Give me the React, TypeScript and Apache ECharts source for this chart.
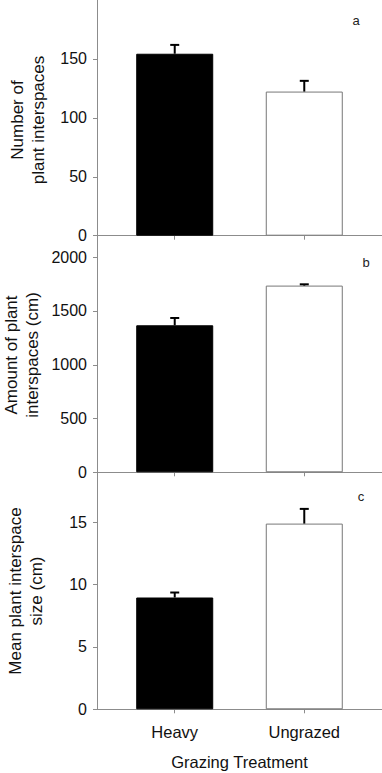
import React, { useEffect, useRef } from "react";
import * as echarts from "echarts";

const categories = ["Heavy", "Ungrazed"];
const categoryPositions = [1, 2];

const countMean = [154.4, 122.3];
const countErr = [7.5, 9.1];
const amountMean = [1367, 1736];
const amountErr = [68, 12];
const sizeMean = [8.97, 14.9];
const sizeErr = [0.4, 1.18];

const countTicks = [0, 50, 100, 150];
const amountTicks = [0, 500, 1000, 1500, 2000];
const sizeTicks = [0, 5, 10, 15];

const panelLetters = ["a", "b", "c"];
const yTitles = [
  "Number of\nplant interspaces",
  "Amount of plant\ninterspaces (cm)",
  "Mean plant interspace\nsize (cm)",
];
const xTitle = "Grazing Treatment";

const FONT = "Liberation Sans";
const AXIS_COLOR = "#8c8c8c";
const TEXT_COLOR = "#111";

export default function App() {
  const ref = useRef<HTMLDivElement>(null);

  useEffect(() => {
    if (!ref.current) return;
    const chart = echarts.init(ref.current, null, { renderer: "svg" });

    const grids = [
      { left: 97, right: 0, top: -13.5, height: 249.2 },
      { left: 97, right: 0, top: 235.7, height: 236.6 },
      { left: 97, right: 0, top: 472.5, height: 236.8 },
    ];
    const yMax = [200, 2200, 19];
    const yTickSets = [countTicks, amountTicks, sizeTicks];
    const means = [countMean, amountMean, sizeMean];
    const errs = [countErr, amountErr, sizeErr];

    const xAxes = grids.map((_, i) => ({
      type: "value" as const,
      gridIndex: i,
      min: 0.4,
      max: 2.6,
      splitLine: { show: false },
      axisLine: { show: true, lineStyle: { color: AXIS_COLOR, width: 1 } },
      axisTick: {
        show: true,
        length: 4,
        inside: false,
        customValues: categoryPositions,
        lineStyle: { color: AXIS_COLOR },
      },
      axisLabel: {
        show: i === 2,
        customValues: categoryPositions,
        margin: 14,
        fontSize: 16.5,
        fontFamily: FONT,
        color: TEXT_COLOR,
        formatter: (v: number) => categories[Math.round(v) - 1] ?? "",
      },
      name: i === 2 ? xTitle : "",
      nameLocation: "middle" as const,
      nameGap: 44,
      nameTextStyle: { fontSize: 16.5, fontFamily: FONT, color: TEXT_COLOR },
    }));

    const yAxes = grids.map((_, i) => ({
      type: "value" as const,
      gridIndex: i,
      min: 0,
      max: yMax[i],
      splitLine: { show: false },
      axisLine: { show: true, lineStyle: { color: AXIS_COLOR, width: 1 } },
      axisTick: {
        show: true,
        length: 4,
        inside: false,
        customValues: yTickSets[i],
        lineStyle: { color: AXIS_COLOR },
      },
      axisLabel: {
        customValues: yTickSets[i],
        margin: 10,
        fontSize: 16,
        fontFamily: FONT,
        color: TEXT_COLOR,
        formatter: (v: number) => String(v),
      },
    }));

    const series: any[] = [];
    grids.forEach((_, i) => {
      series.push({
        type: "bar",
        xAxisIndex: i,
        yAxisIndex: i,
        barWidth: 77,
        data: categoryPositions.map((x, j) => ({
          value: [x, means[i][j]],
          itemStyle:
            j === 0
              ? { color: "#000", borderColor: "#000", borderWidth: 1 }
              : { color: "#fff", borderColor: "#777", borderWidth: 1 },
        })),
      });
      series.push({
        type: "custom",
        xAxisIndex: i,
        yAxisIndex: i,
        z: 5,
        data: categoryPositions.map((x, j) => [x, means[i][j], errs[i][j]]),
        renderItem: (_p: any, api: any) => {
          const x = api.value(0);
          const y = api.value(1);
          const e = api.value(2);
          const p0 = api.coord([x, y]);
          const p1 = api.coord([x, y + e]);
          return {
            type: "group",
            children: [
              {
                type: "line",
                shape: { x1: p0[0], y1: p0[1], x2: p1[0], y2: p1[1] },
                style: { stroke: "#000", lineWidth: 2 },
              },
              {
                type: "line",
                shape: { x1: p1[0] - 4.5, y1: p1[1], x2: p1[0] + 4.5, y2: p1[1] },
                style: { stroke: "#000", lineWidth: 2 },
              },
            ],
          };
        },
      });
    });

    const letterPos = [
      [356, 20.5],
      [366, 262],
      [361, 496.5],
    ];
    const titlePos = [
      [27.5, 120],
      [22, 355],
      [26, 591],
    ];

    const graphics: any[] = [];
    panelLetters.forEach((t, i) => {
      graphics.push({
        type: "text",
        x: letterPos[i][0],
        y: letterPos[i][1],
        style: {
          text: t,
          fontSize: 13,
          fontFamily: FONT,
          fill: "#222",
          align: "center",
          verticalAlign: "middle",
        },
      });
    });
    yTitles.forEach((t, i) => {
      graphics.push({
        type: "text",
        x: titlePos[i][0],
        y: titlePos[i][1],
        rotation: Math.PI / 2,
        style: {
          text: t,
          fontSize: 17,
          lineHeight: 21,
          fontFamily: FONT,
          fill: TEXT_COLOR,
          align: "center",
          verticalAlign: "middle",
        },
      });
    });

    chart.setOption({
      animation: false,
      backgroundColor: "#fff",
      grid: grids,
      xAxis: xAxes,
      yAxis: yAxes,
      series,
      graphic: graphics,
    });

    return () => chart.dispose();
  }, []);

  return (
    <div
      ref={ref}
      style={{ position: "fixed", left: 0, top: 0, width: 382, height: 773 }}
    />
  );
}
